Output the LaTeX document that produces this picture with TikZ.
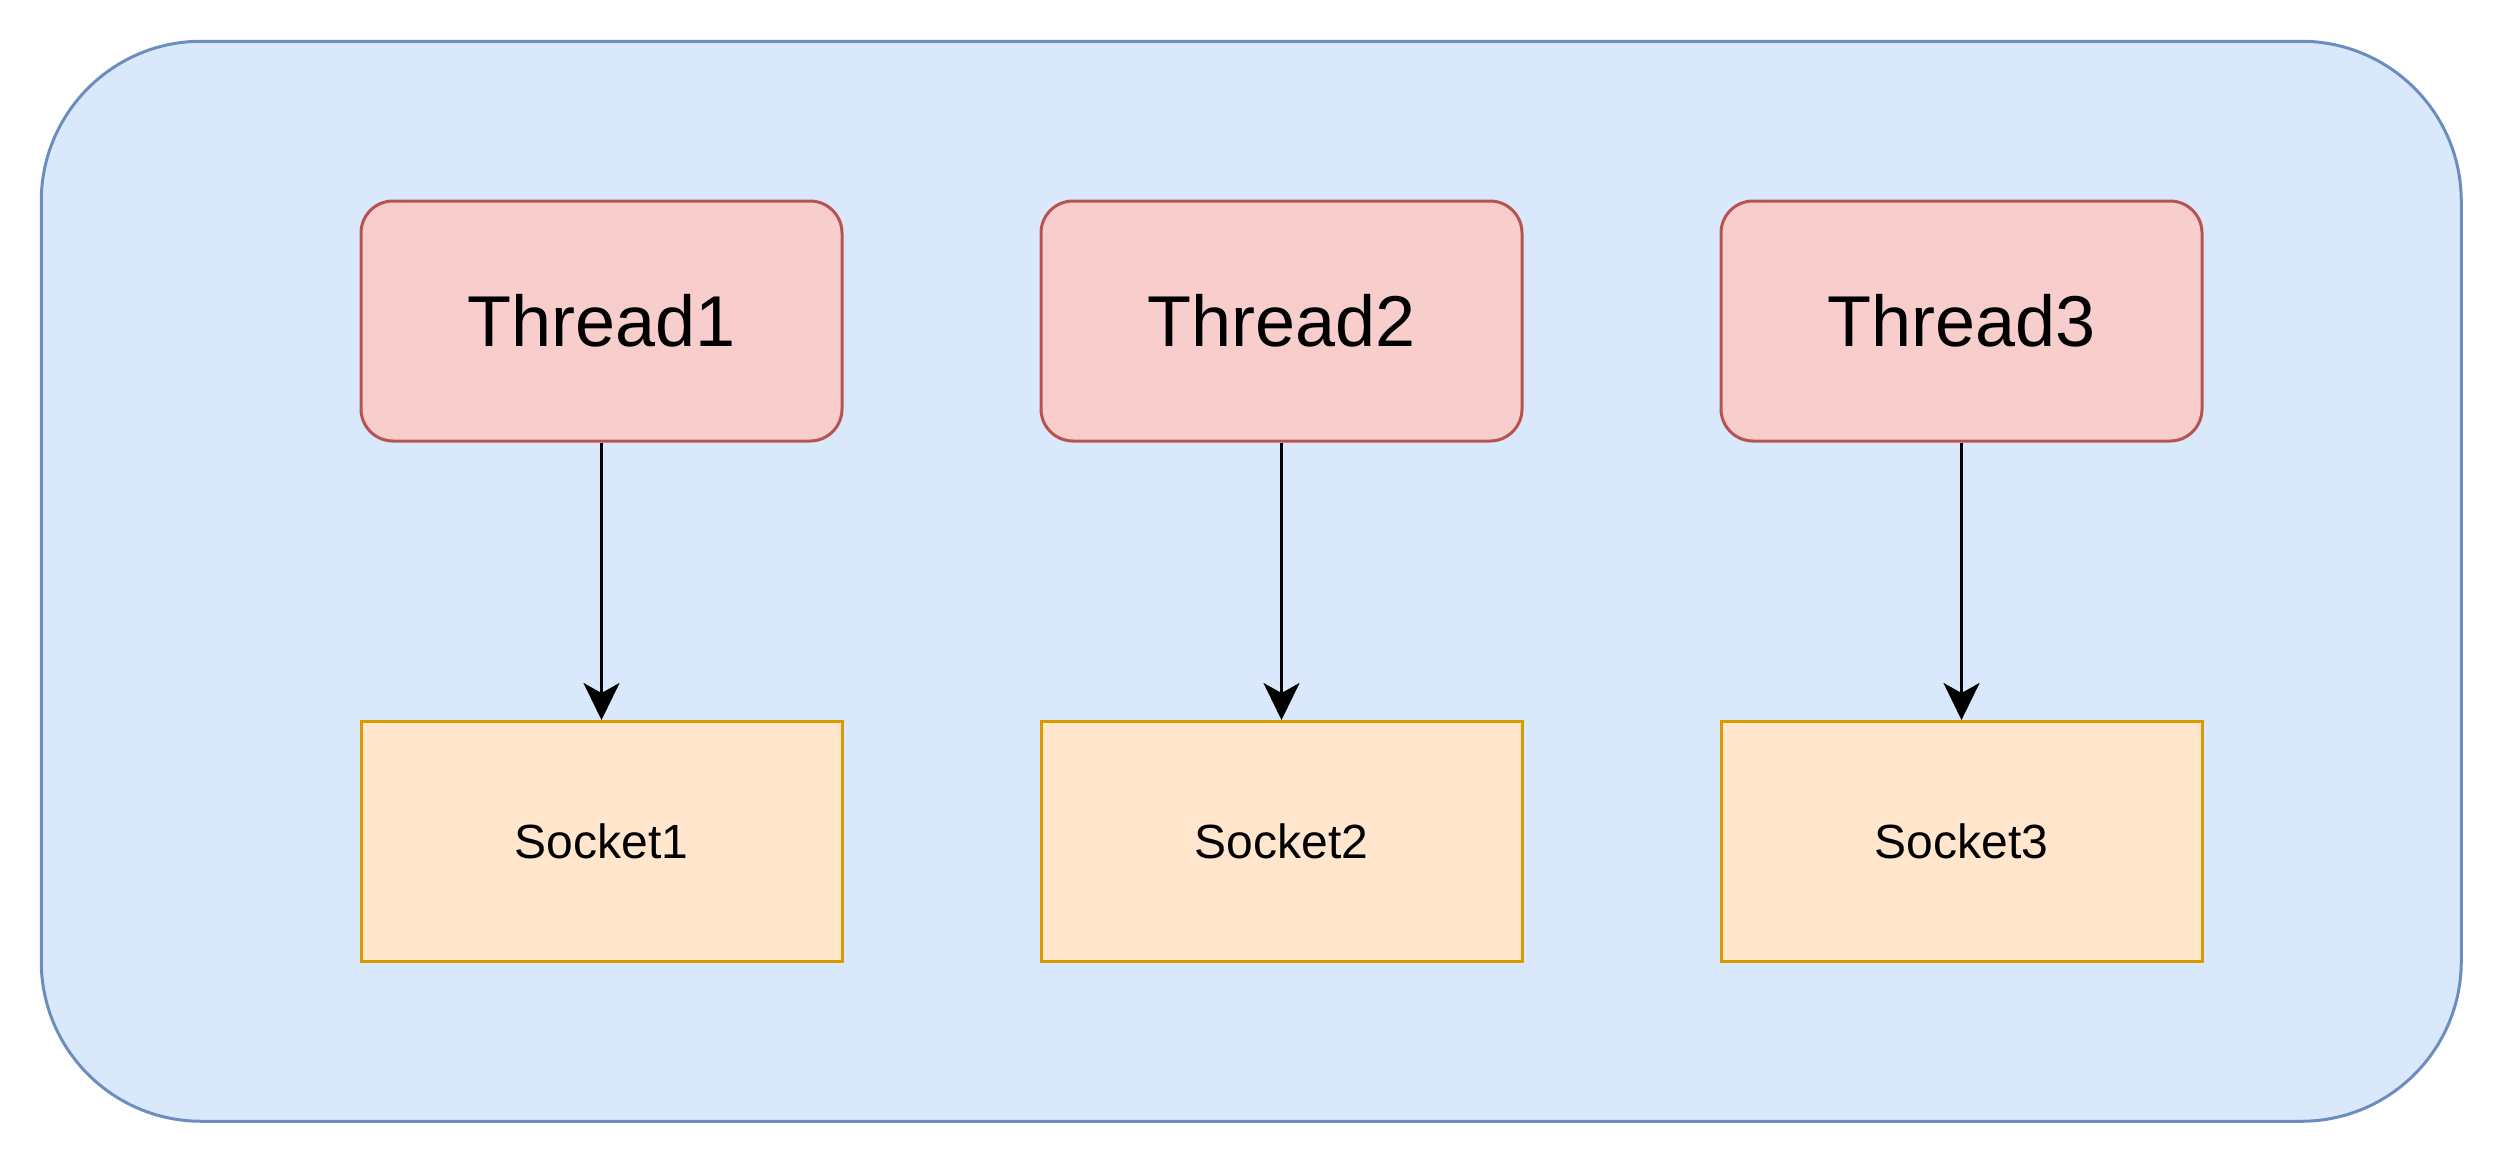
\documentclass[tikz,border=0pt]{standalone}
\usepackage{fontspec}
\setmainfont{Liberation Sans}
\usetikzlibrary{arrows.meta}
\definecolor{outerfill}{HTML}{DAE8FC}
\definecolor{outerdraw}{HTML}{6C8EBF}
\definecolor{thfill}{HTML}{F8CECC}
\definecolor{thdraw}{HTML}{B85450}
\definecolor{skfill}{HTML}{FFE6CC}
\definecolor{skdraw}{HTML}{D79B00}
\tikzset{
  outerbox/.style={draw=outerdraw, fill=outerfill, line width=1.5pt, rounded corners=80pt,
    minimum width=1210pt, minimum height=540pt, inner sep=0pt},
  threadbox/.style={draw=thdraw, fill=thfill, line width=1.5pt, rounded corners=16pt,
    minimum width=240.5pt, minimum height=120pt, inner sep=0pt,
    font=\fontsize{36}{43}\selectfont},
  socketbox/.style={draw=skdraw, fill=skfill, line width=1.5pt,
    minimum width=240.5pt, minimum height=120pt, inner sep=0pt,
    font=\fontsize{24}{29}\selectfont},
  conn/.style={line width=1.5pt, -{Stealth[length=18.5pt, width=18pt, inset=5pt]}}
}
\begin{document}
\begin{tikzpicture}[x=0.5pt, y=-0.5pt]
\useasboundingbox (0,0) rectangle (2504,1164);
\node[outerbox] (outer) at (1251.25,581.25) {};
\node[threadbox] (t1) at (601.5,321) {Thread1};
\node[threadbox] (t2) at (1281.5,321) {Thread2};
\node[threadbox] (t3) at (1961.5,321) {Thread3};
\node[socketbox] (s1) at (601.5,841.5) {Socket1};
\node[socketbox] (s2) at (1281.5,841.5) {Socket2};
\node[socketbox] (s3) at (1961.5,841.5) {Socket3};
\draw[conn] (t1) -- (s1);
\draw[conn] (t2) -- (s2);
\draw[conn] (t3) -- (s3);
\end{tikzpicture}
\end{document}
